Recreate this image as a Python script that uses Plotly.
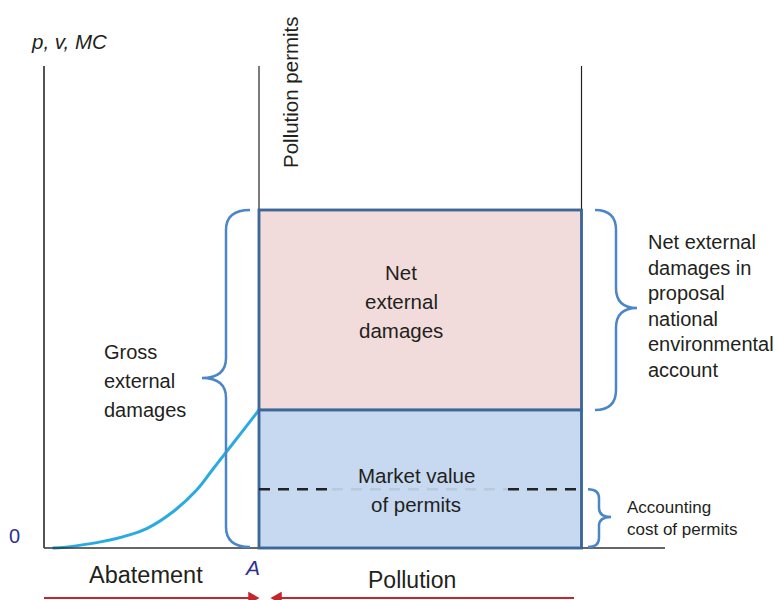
import plotly.graph_objects as go

# ---------------- data (economic quantities) ----------------
abatement_x = [4, 10, 21, 28, 37, 48, 60, 71, 78, 84, 92, 100]
mc_y = [0, 0.25, 1.2, 2.0, 3.3, 5.7, 10.5, 16.8, 22.4, 27.2, 33.6, 40]
abatement_A = 100          # abatement level A
total_emissions = 250      # right end of the permits block
permit_price = 40          # market price of permits (MC at A)
marginal_damage = 98       # marginal external damage
accounting_price = 17      # accounting cost of permits

# ---------------- layout helpers (pixel -> data) ----------------
W, H = 777, 600
OX, OY = 44, 548
SX = (581.5 - OX) / total_emissions
SY = (OY - 410) / permit_price


def X(px):
    return (px - OX) / SX


def Y(py):
    return (OY - py) / SY


FONT = "Liberation Sans, Arial, Helvetica, sans-serif"
TXT = "#231f20"
BRACE = "#4a86c8"
BORDER = "#3d6799"
RED = "#c1272d"
NAVY = "#2e3192"

fig = go.Figure()

# MC curve
fig.add_trace(go.Scatter(x=abatement_x, y=mc_y, mode="lines",
                         line=dict(color="#29abe2", width=3, shape="spline", smoothing=1.3),
                         hoverinfo="skip", showlegend=False))

shapes = []
axis_top = Y(66)
# rectangles
shapes.append(dict(type="rect", x0=abatement_A, x1=total_emissions, y0=permit_price, y1=marginal_damage,
                   fillcolor="#f2dcdb", line=dict(color=BORDER, width=2.5), layer="below"))
shapes.append(dict(type="rect", x0=abatement_A, x1=total_emissions, y0=0, y1=permit_price,
                   fillcolor="#c6d9f0", line=dict(color=BORDER, width=2.5), layer="below"))
# axes lines
shapes.append(dict(type="line", x0=0, x1=0, y0=0, y1=axis_top, line=dict(color="#555555", width=2)))
shapes.append(dict(type="line", x0=0, x1=X(665), y0=0, y1=0, line=dict(color="#333333", width=1.5)))
shapes.append(dict(type="line", x0=abatement_A, x1=abatement_A, y0=permit_price, y1=axis_top,
                   line=dict(color="#222222", width=1.2), layer="below"))
shapes.append(dict(type="line", x0=total_emissions, x1=total_emissions, y0=marginal_damage, y1=axis_top,
                   line=dict(color="#222222", width=1.2)))
# redraw rect borders on top of thin lines
shapes.append(dict(type="rect", x0=abatement_A, x1=total_emissions, y0=0, y1=marginal_damage,
                   line=dict(color=BORDER, width=2.5)))
shapes.append(dict(type="line", x0=abatement_A, x1=total_emissions, y0=permit_price, y1=permit_price,
                   line=dict(color=BORDER, width=2.5)))
# dashed accounting-price line (dimmed behind the label)
dash = "11px,8px"
shapes.append(dict(type="line", x0=abatement_A, x1=X(332), y0=accounting_price, y1=accounting_price,
                   line=dict(color="#222222", width=2.5, dash=dash)))
shapes.append(dict(type="line", x0=X(332), x1=X(508), y0=accounting_price, y1=accounting_price,
                   line=dict(color="#b9c9dc", width=2.5, dash=dash)))
shapes.append(dict(type="line", x0=X(508), x1=total_emissions, y0=accounting_price, y1=accounting_price,
                   line=dict(color="#222222", width=2.5, dash=dash)))


def brace(x_end, x_mid, x_tip, y_top, y_bot, y_tip, r):
    """curly brace path given pixel geometry, returned in data coords"""
    pts = [
        ("M", [(x_end, y_top)]),
        ("Q", [(x_mid, y_top), (x_mid, y_top + r)]),
        ("L", [(x_mid, y_tip - r)]),
        ("Q", [(x_mid, y_tip), (x_tip, y_tip)]),
        ("Q", [(x_mid, y_tip), (x_mid, y_tip + r)]),
        ("L", [(x_mid, y_bot - r)]),
        ("Q", [(x_mid, y_bot), (x_end, y_bot)]),
    ]
    s = ""
    for cmd, ps in pts:
        s += cmd + " " + " ".join(f"{X(a):.4f},{Y(b):.4f}" for a, b in ps) + " "
    return s


def ypx(v):
    return OY - v * SY


top_px = ypx(marginal_damage)
mid_px = ypx(permit_price)
acc_px = ypx(accounting_price)
shapes.append(dict(type="path", path=brace(250, 226, 202, top_px, 547, 378, 20),
                   line=dict(color=BRACE, width=2.5)))
shapes.append(dict(type="path", path=brace(595, 616, 637, top_px, mid_px, 308, 20),
                   line=dict(color=BRACE, width=2.5)))
shapes.append(dict(type="path", path=brace(588, 599, 611, acc_px, 547, 517, 9),
                   line=dict(color=BRACE, width=2.5)))

# red arrows
ya = Y(598)
shapes.append(dict(type="line", x0=0, x1=X(256), y0=ya, y1=ya, line=dict(color=RED, width=2)))
shapes.append(dict(type="path", path=f"M {X(249)},{Y(593)} L {X(258)},{Y(598)} L {X(249)},{Y(603)} Z",
                   fillcolor=RED, line=dict(color=RED, width=1.5)))
shapes.append(dict(type="line", x0=X(274), x1=X(574), y0=ya, y1=ya, line=dict(color=RED, width=2)))
shapes.append(dict(type="path", path=f"M {X(281)},{Y(593)} L {X(272)},{Y(598)} L {X(281)},{Y(603)} Z",
                   fillcolor=RED, line=dict(color=RED, width=1.5)))

ann = []


def text(t, px, py, size=20.5, anchor="left", color=TXT, italic=False, angle=0):
    ann.append(dict(text=t, x=X(px), y=Y(py), xref="x", yref="y", showarrow=False,
                    xanchor=anchor, yanchor="middle", textangle=angle,
                    font=dict(family=FONT, size=size, color=color,
                              style="italic" if italic else "normal")))


text("p, v, MC", 29, 41, size=20.5, italic=True)
text("Pollution permits", 290, 92, size=20.5, anchor="center", angle=-90)
text("0", 14, 536, size=20, anchor="center", color=NAVY)
text("A", 252, 567, size=21, anchor="center", color=NAVY, italic=True)
text("Abatement", 146, 575, size=23.5, anchor="center")
text("Pollution", 412, 580, size=23, anchor="center")
for i, t in enumerate(["Net", "external", "damages"]):
    text(t, 401, 272 + 29 * i, anchor="center")
for i, t in enumerate(["Gross", "external", "damages"]):
    text(t, 102, 352 + 29 * i, size=20)
text("Market value", 416, 475, anchor="center")
text("of permits", 416, 504, anchor="center")
for i, t in enumerate(["Net external", "damages in", "proposal", "national", "environmental", "account"]):
    text(t, 646, 242 + 25.6 * i, size=20)
text("Accounting", 625, 507, size=17)
text("cost of permits", 625, 529, size=17)

fig.update_layout(
    width=W, height=H, autosize=False,
    margin=dict(l=0, r=0, t=0, b=0, pad=0),
    paper_bgcolor="white", plot_bgcolor="white",
    xaxis=dict(range=[X(0), X(W)], visible=False, fixedrange=True),
    yaxis=dict(range=[Y(H), Y(0)], visible=False, fixedrange=True),
    shapes=shapes, annotations=ann, showlegend=False,
)

fig.write_html("out.html", config={"displayModeBar": False},
               post_script="document.body.style.margin='0';document.body.style.overflow='hidden';")
